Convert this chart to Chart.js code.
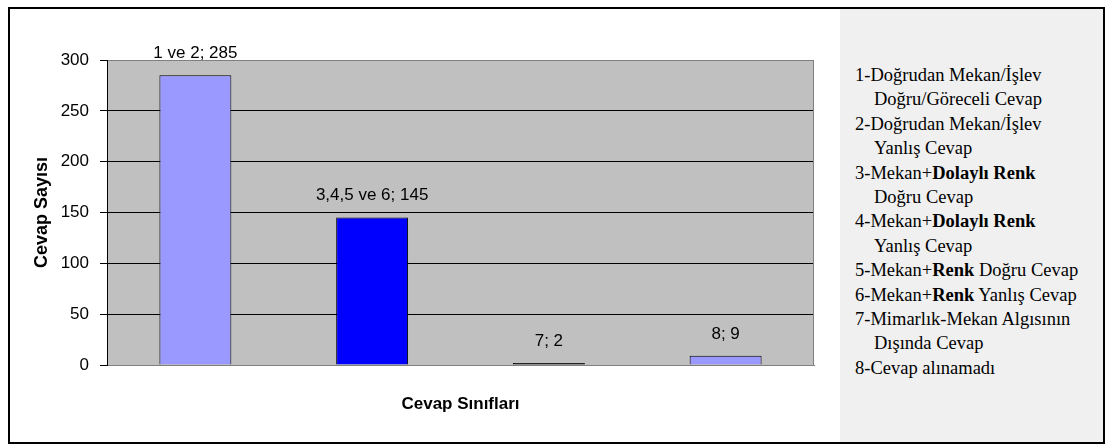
<!DOCTYPE html>
<html lang="tr">
<head>
<meta charset="utf-8">
<title>Cevap Sınıfları</title>
<script src="https://cdn.jsdelivr.net/npm/chart.js@4.4.1/dist/chart.umd.min.js"></script>
<style>
    html, body { margin: 0; padding: 0; background: #fff; }
    body { width: 1105px; height: 445px; position: relative; overflow: hidden; }
    #cerceve {
        position: absolute; left: 8px; top: 7px; width: 1097px; height: 437px;
        box-sizing: border-box; border: 2px solid #000;
    }
    #grafikKutu { position: absolute; left: 0; top: 0; width: 840px; height: 445px; }
    #aciklama {
        position: absolute; left: 840px; top: 9px; width: 263px; height: 433px;
        background: #f0f0f0; color: #000;
        font-family: "Liberation Serif", "Times New Roman", serif;
        font-size: 18.5px; line-height: 24.4px;
    }
    #aciklama .liste { position: absolute; left: 15px; top: 54px; white-space: nowrap; }
    #aciklama .devam { padding-left: 19px; }
</style>
</head>
<body>
<div id="cerceve"></div>
<div id="aciklama">
    <div class="liste">
        <div>1-Doğrudan Mekan/İşlev</div>
        <div class="devam">Doğru/Göreceli Cevap</div>
        <div>2-Doğrudan Mekan/İşlev</div>
        <div class="devam">Yanlış Cevap</div>
        <div>3-Mekan+<b>Dolaylı Renk</b></div>
        <div class="devam">Doğru Cevap</div>
        <div>4-Mekan+<b>Dolaylı Renk</b></div>
        <div class="devam">Yanlış Cevap</div>
        <div>5-Mekan+<b>Renk</b> Doğru Cevap</div>
        <div>6-Mekan+<b>Renk</b> Yanlış Cevap</div>
        <div>7-Mimarlık-Mekan Algısının</div>
        <div class="devam">Dışında Cevap</div>
        <div>8-Cevap alınamadı</div>
    </div>
</div>
<div id="grafikKutu"><canvas id="chartCevaplar"></canvas></div>

<script>
// Cevap sınıfları ve her sınıftaki cevap sayısı
const siniflar = ['1 ve 2', '3,4,5 ve 6', '7', '8'];
const cevapSayilari = [285, 145, 2, 9];

// Dikey eksen aralığı
const eksenMin = 0;
const eksenMax = 300;
const eksenAdim = 50;

const yaziTipi = '"Liberation Sans", Arial, sans-serif';

// Çizim alanının gri zemini ve sağ kenar çizgisi
const cizimAlani = {
    id: 'cizimAlani',
    beforeDraw(chart) {
        const { ctx, chartArea: a } = chart;
        ctx.save();
        ctx.fillStyle = '#c0c0c0';
        ctx.fillRect(a.left, a.top, a.right - a.left, a.bottom - a.top);
        ctx.restore();
    },
    afterDraw(chart) {
        const { ctx, chartArea: a } = chart;
        ctx.save();
        ctx.strokeStyle = '#808080';
        ctx.lineWidth = 1;
        ctx.beginPath();
        ctx.moveTo(Math.round(a.right) - 0.5, a.top);
        ctx.lineTo(Math.round(a.right) - 0.5, a.bottom);
        ctx.stroke();
        ctx.restore();
    }
};

// Çubukların üstüne "sınıf; değer" etiketleri
const degerEtiketleri = {
    id: 'degerEtiketleri',
    afterDatasetsDraw(chart) {
        const { ctx } = chart;
        const meta = chart.getDatasetMeta(0);
        ctx.save();
        ctx.font = `17px ${yaziTipi}`;
        ctx.fillStyle = '#000';
        ctx.textAlign = 'center';
        ctx.textBaseline = 'middle';
        meta.data.forEach((cubuk, i) => {
            ctx.fillText(`${siniflar[i]}; ${cevapSayilari[i]}`, cubuk.x, cubuk.y - 22);
        });
        ctx.restore();
    }
};

function crearGraficoCevaplar() {
    const ctx = document.getElementById('chartCevaplar').getContext('2d');

    new Chart(ctx, {
        type: 'bar',
        data: {
            labels: siniflar,
            datasets: [
                {
                    label: 'Cevap Sayısı',
                    data: cevapSayilari,
                    backgroundColor: ['#9999ff', '#0000ff', '#000000', '#9999ff'],
                    borderColor: '#000',
                    borderWidth: 1,
                    barPercentage: 0.407,
                    categoryPercentage: 1
                }
            ]
        },
        options: {
            responsive: true,
            maintainAspectRatio: false,
            animation: false,
            layout: { padding: { top: 60, right: 26, left: 0, bottom: 0 } },
            plugins: {
                legend: { display: false },
                tooltip: { enabled: false }
            },
            scales: {
                x: {
                    grid: { display: false },
                    border: { color: '#808080' },
                    ticks: { display: false },
                    title: {
                        display: true,
                        text: 'Cevap Sınıfları',
                        color: '#000',
                        font: { family: yaziTipi, size: 17, weight: 'bold' },
                        padding: { top: 0, bottom: 30 }
                    },
                    afterFit(scale) { scale.height = 80; }
                },
                y: {
                    min: eksenMin,
                    max: eksenMax,
                    ticks: {
                        stepSize: eksenAdim,
                        color: '#000',
                        padding: 11,
                        font: { family: yaziTipi, size: 17 }
                    },
                    grid: {
                        color: c => (c.tick && (c.tick.value === eksenMin || c.tick.value === eksenMax)) ? '#808080' : '#000',
                        tickColor: '#000',
                        tickLength: 7
                    },
                    border: { color: '#000' },
                    title: {
                        display: true,
                        text: 'Cevap Sayısı',
                        color: '#000',
                        font: { family: yaziTipi, size: 18, weight: 'bold' },
                        padding: { top: 31, bottom: 0 }
                    },
                    afterFit(scale) { scale.width = 107; }
                }
            }
        },
        plugins: [cizimAlani, degerEtiketleri]
    });
}

crearGraficoCevaplar();
</script>
</body>
</html>
